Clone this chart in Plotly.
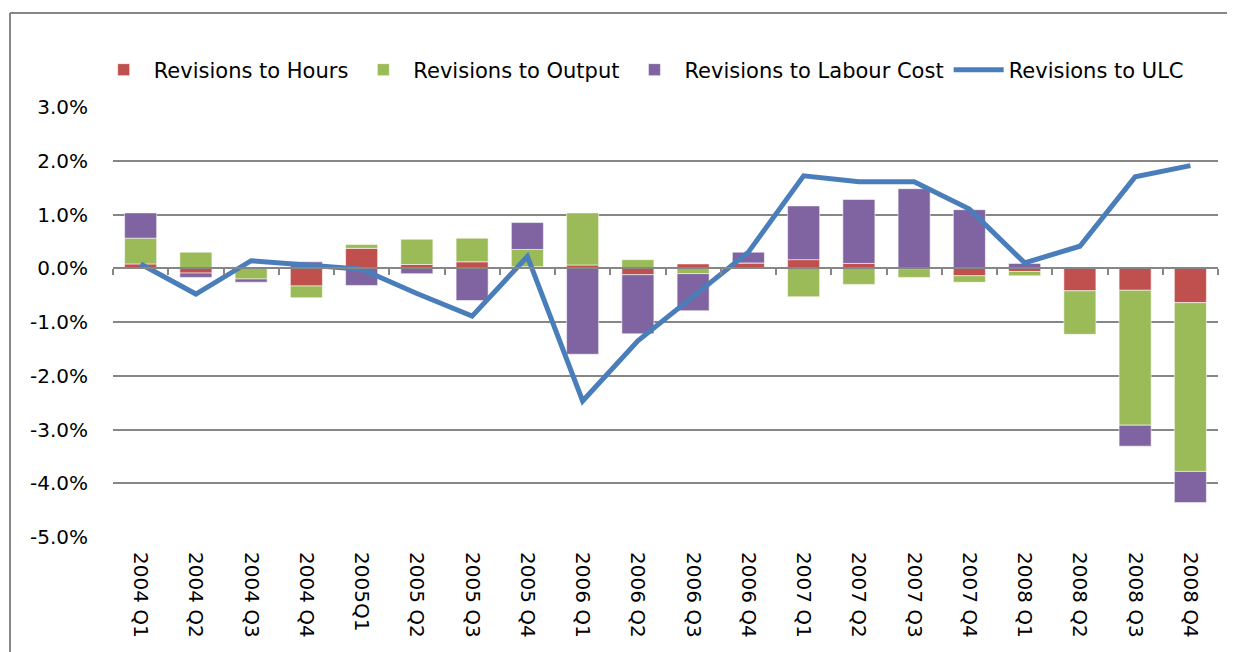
import plotly.graph_objects as go

categories = ["2004 Q1", "2004 Q2", "2004 Q3", "2004 Q4", "2005Q1", "2005 Q2", "2005 Q3", "2005 Q4",
              "2006 Q1", "2006 Q2", "2006 Q3", "2006 Q4", "2007 Q1", "2007 Q2", "2007 Q3", "2007 Q4",
              "2008 Q1", "2008 Q2", "2008 Q3", "2008 Q4"]

hours = [0.08, -0.09, 0.0, -0.33, 0.37, 0.07, 0.12, 0.03, 0.06, -0.12, 0.08, 0.10,
         0.16, 0.09, -0.01, -0.14, -0.06, -0.42, -0.41, -0.64]
output = [0.48, 0.30, -0.20, -0.22, 0.07, 0.47, 0.44, 0.32, 0.97, 0.16, -0.10, 0.0,
          -0.53, -0.30, -0.16, -0.12, -0.08, -0.81, -2.51, -3.14]
labour = [0.47, -0.08, -0.06, 0.12, -0.32, -0.10, -0.60, 0.50, -1.60, -1.10, -0.69, 0.20,
          1.00, 1.19, 1.48, 1.09, 0.09, 0.0, -0.39, -0.58]
ulc = [0.08, -0.48, 0.14, 0.05, -0.02, -0.47, -0.89, 0.22, -2.47, -1.35, -0.52, 0.30,
       1.72, 1.61, 1.61, 1.10, 0.10, 0.41, 1.70, 1.91]

y_tickvals = [3, 2, 1, 0, -1, -2, -3, -4, -5]
y_ticktext = ["3.0%", "2.0%", "1.0%", "0.0%", "-1.0%", "-2.0%", "-3.0%", "-4.0%", "-5.0%"]

FONT = "DejaVu Sans"
edge = "rgba(255,255,255,0.55)"
frame = "#868686"

fig = go.Figure()
fig.add_trace(go.Bar(x=categories, y=hours, name="Revisions to Hours",
                     marker=dict(color="#C0504D", line=dict(color=edge, width=1))))
fig.add_trace(go.Bar(x=categories, y=output, name="Revisions to Output",
                     marker=dict(color="#9BBB59", line=dict(color=edge, width=1))))
fig.add_trace(go.Bar(x=categories, y=labour, name="Revisions to Labour Cost",
                     marker=dict(color="#8064A2", line=dict(color=edge, width=1))))
fig.add_trace(go.Scatter(x=categories, y=ulc, name="Revisions to ULC", mode="lines",
                         xaxis="x2", line=dict(color="#4A7EBB", width=5)))

fig.update_layout(
    width=1227, height=644,
    barmode="relative", bargap=0.42,
    paper_bgcolor="white", plot_bgcolor="white",
    margin=dict(l=105, r=17, t=99, b=115),
    font=dict(family=FONT, size=20, color="black"),
    showlegend=True,
    legend=dict(orientation="h", x=0.478, xanchor="center", y=1.086, yanchor="middle",
                font=dict(family=FONT, size=21, color="black"),
                itemwidth=50, tracegroupgap=0, bgcolor="rgba(0,0,0,0)"),
    xaxis=dict(type="category", categoryorder="array", categoryarray=categories,
               range=[-0.5, 19.5], showgrid=False, showline=False, ticks="",
               tickangle=90, tickfont=dict(family=FONT, size=20, color="black"),
               ticklabelstandoff=14),
    xaxis2=dict(type="category", categoryorder="array", categoryarray=categories,
                range=[-0.5, 19.5], overlaying="x", anchor="free", position=0.625,
                side="bottom", showgrid=False, showline=True, linecolor=frame, linewidth=2,
                ticks="outside", ticklen=6, tickwidth=2, tickcolor=frame,
                tickson="boundaries", showticklabels=False),
    yaxis=dict(range=[-5, 3], tickvals=y_tickvals, ticktext=y_ticktext,
               showgrid=True, gridcolor=frame, gridwidth=1.5, zeroline=False,
               showline=False, ticks="", ticklabelstandoff=24,
               tickfont=dict(family=FONT, size=20, color="black")),
    shapes=[
        dict(type="line", xref="paper", yref="paper", x0=-0.0932, x1=1.1,
             y0=1.2186, y1=1.2186, line=dict(color=frame, width=2), layer="below"),
        dict(type="line", xref="paper", yref="paper", x0=-0.0932, x1=-0.0932,
             y0=1.2186, y1=-0.6, line=dict(color=frame, width=2), layer="below"),
    ],
)

fig.write_html("out.html")
